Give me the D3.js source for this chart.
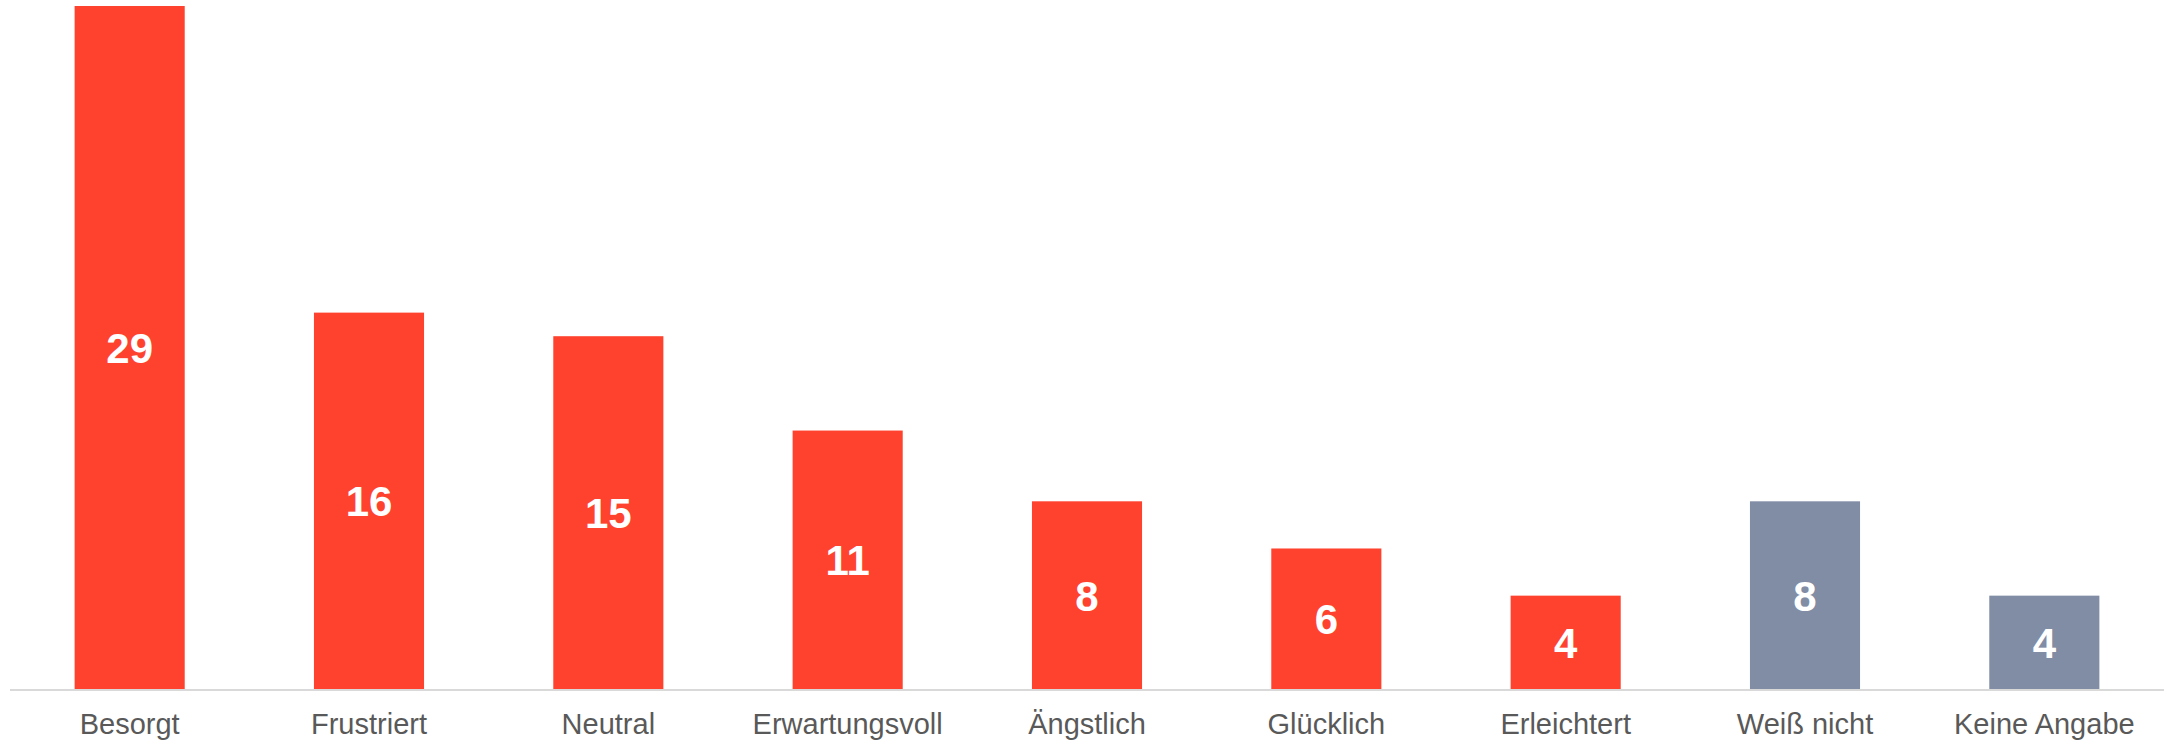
<!DOCTYPE html>
<html><head><meta charset="utf-8">
<script src="https://cdn.jsdelivr.net/npm/d3@7/dist/d3.min.js"></script>
<style>html,body{margin:0;padding:0;background:#fff;}svg{display:block;}</style>
</head><body>
<svg id="chart" width="2164" height="741"></svg>
<script>
const categories = ["Besorgt","Frustriert","Neutral","Erwartungsvoll","Ängstlich","Glücklich","Erleichtert","Weiß nicht","Keine Angabe"];
const values = [29,16,15,11,8,6,4,8,4];
const groups = ["emotion","emotion","emotion","emotion","emotion","emotion","emotion","other","other"];
const colors = {emotion:"#FF422D", other:"#818CA5"};

const svg = d3.select("#chart");
const W = 2164, H = 741;
const x = d3.scaleBand().domain(categories).range([10, W]).paddingInner(0.54).paddingOuter(0.27);
const y = d3.scaleLinear().domain([0, 29]).range([690, 6]);

svg.selectAll("rect.bar").data(categories).join("rect")
  .attr("class","bar")
  .attr("x", d => x(d))
  .attr("width", x.bandwidth())
  .attr("y", (d,i) => y(values[i]))
  .attr("height", (d,i) => y(0) - y(values[i]))
  .attr("fill", (d,i) => colors[groups[i]]);

svg.selectAll("text.val").data(categories).join("text")
  .attr("class","val")
  .attr("x", d => x(d) + x.bandwidth()/2)
  .attr("y", (d,i) => (y(values[i]) + y(0))/2)
  .attr("dy","0.36em")
  .attr("text-anchor","middle")
  .attr("font-family","Liberation Sans, Arial, sans-serif")
  .attr("font-weight","bold")
  .attr("font-size","42px")
  .attr("fill","#fff")
  .text((d,i) => values[i]);

const axis = d3.axisBottom(x).tickSize(0).tickPadding(0);
const g = svg.append("g").attr("transform", `translate(0,${y(0)})`).call(axis);
g.select(".domain").attr("stroke","#d9d9d9").attr("stroke-width",2).attr("d", `M10,0H${W}`);
g.selectAll(".tick text")
  .attr("y", 44)
  .attr("dy", 0)
  .attr("font-family","Liberation Sans, Arial, sans-serif")
  .attr("font-size","29px")
  .attr("fill","#595959");
</script>
</body></html>
